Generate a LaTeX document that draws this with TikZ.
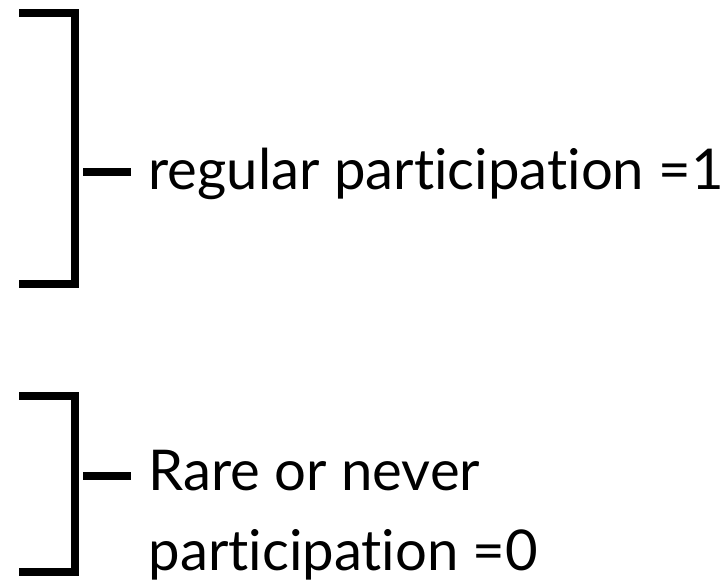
\documentclass[tikz,border=0pt]{standalone}
\usepackage{fontspec}
\setmainfont[Ligatures=CommonOff]{Lato}
\usepackage{tikz}

\begin{document}
\begin{tikzpicture}
                \useasboundingbox (0,0) rectangle (14.48,11.64);
                \begin{scope}[every node/.style={inner sep=0, font=\fontsize{32}{45.5}\selectfont, align=left}, every path/.style={line width=4pt}]
                        % top bracket
                        \coordinate (T1) at (0.38,11.38);
                        \coordinate (T2) at (1.5,11.38);
                        \coordinate (T3) at (1.5,5.96);
                        \coordinate (T4) at (0.38,5.96);
                        \coordinate (TM) at (1.66,8.2);
                        \node [anchor=base west] (R) at (2.9,7.84) {regular participation =1};

                        % bottom bracket
                        \coordinate (B1) at (0.38,3.72);
                        \coordinate (B2) at (1.5,3.72);
                        \coordinate (B3) at (1.5,0.2);
                        \coordinate (B4) at (0.38,0.2);
                        \coordinate (BM) at (1.66,2.12);
                        \node [anchor=north west] (N) at (2.9,2.7) {Rare or never\\participation =0};

                        \draw (T1) -- (T2) -- (T3) -- (T4);
                        \draw (B1) -- (B2) -- (B3) -- (B4);
                        \path[shorten >=0.28cm] (TM) edge (TM -| R.west);
                        \path[shorten >=0.28cm] (BM) edge (BM -| N.west);
               \end{scope}
        \end{tikzpicture}
\end{document}
